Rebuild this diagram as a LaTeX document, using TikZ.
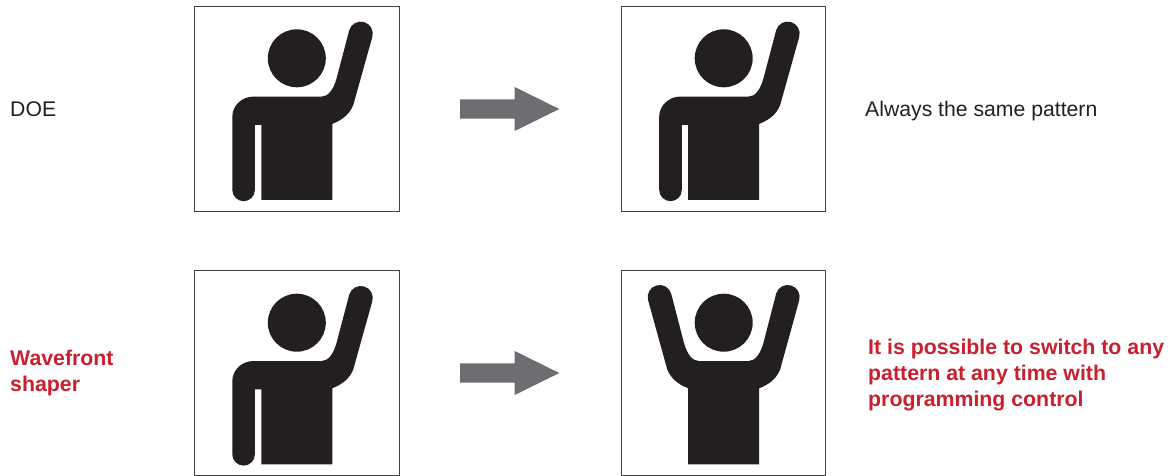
\documentclass[tikz,border=0pt]{standalone}
\usepackage{fontspec}
\setmainfont{Liberation Sans}
\usepackage{xcolor}
\usetikzlibrary{arrows.meta,positioning,shapes.arrows}
\definecolor{ink}{RGB}{35,31,32}
\definecolor{wavered}{RGB}{200,32,46}
\definecolor{arrowgray}{RGB}{109,110,113}
\tikzset{
  frame/.style ={draw=ink!85,line width=1pt,fill=white,minimum size=204.5pt,inner sep=0pt},
  blockarrow/.style={single arrow,fill=arrowgray,minimum height=99.3pt,inner xsep=0pt,inner ysep=9.35pt,
                 single arrow head extend=12.5pt,single arrow tip angle=52.5,single arrow head indent=0pt},
  plain/.style ={font=\fontsize{21.2}{26}\selectfont,text=ink,inner sep=0pt,anchor=west,align=left},
  accent/.style={font=\fontsize{21.3}{26}\selectfont\bfseries,text=wavered,inner sep=0pt,anchor=west,align=left},
  pics/oneup/.style={code={
    \fill[ink] (0,50.5) circle (29);
    \fill[ink] (-35.5,-91.1)--(35.5,-91.1)--(35.5,-15.1)
      .. controls (46,-11) and (53,-5) .. (56.5,3.9)--(75.5,71.9)
      arc[start angle=-16,end angle=164,radius=12]
      --(39.8,30.5) .. controls (36.5,18.5) and (31,12.2) .. (24.8,12.2)
      --(-43.5,12.2) .. controls (-55,12.2) and (-64.5,3) .. (-64.5,-7.8)
      --(-64.5,-81.1) arc[start angle=180,end angle=360,radius=11.3]
      --(-41.9,-16.1)--(-35.5,-16.1)--cycle;
  }},
  pics/twoup/.style={code={
    \fill[ink] (0,50.5) circle (29);
    \fill[ink] (-35.5,-91.1)--(35.5,-91.1)--(35.5,-15.1)
      .. controls (46,-11) and (53,-5) .. (56.5,3.9)--(75.5,72.9)
      arc[start angle=-16,end angle=164,radius=12]
      --(39.8,30.5) .. controls (36.5,18.5) and (31,12.2) .. (24.8,12.2)
      --(-24.8,12.2) .. controls (-31,12.2) and (-36.5,18.5) .. (-39.8,30.5)
      --(-52.5,79.5) arc[start angle=16,end angle=196,radius=12]
      --(-56.5,3.9) .. controls (-53,-5) and (-46,-11) .. (-35.5,-15.1)--cycle;
  }},
}
\begin{document}
\begin{tikzpicture}[x=1pt,y=1pt]
  \useasboundingbox (0,0) rectangle (1173,475);
  % top row
  \node[frame] (box1) at (296.8,366.2){};
  \node[frame] (box2) at (723.7,366.2){};
  \pic at (box1.center) {oneup};
  \pic at (box2.center) {oneup};
  \node[blockarrow] (arrow1) at (500,366){};
  \node[plain] (doe) at (10,366){DOE};
  \node[plain] (same) at (865,364){Always the same pattern};
  % bottom row
  \node[frame] (box3) at (296.8,101.8){};
  \node[frame] (box4) at (723.7,101.8){};
  \pic at (box3.center) {oneup};
  \pic at (box4.center) {twoup};
  \node[blockarrow] (arrow2) at (500,102){};
  \node[accent] (shaper) at (10,102.5){Wavefront\\shaper};
  \node[accent] (any) at (868,100){It is possible to switch to any\\pattern at any time with\\programming control};
\end{tikzpicture}
\end{document}
